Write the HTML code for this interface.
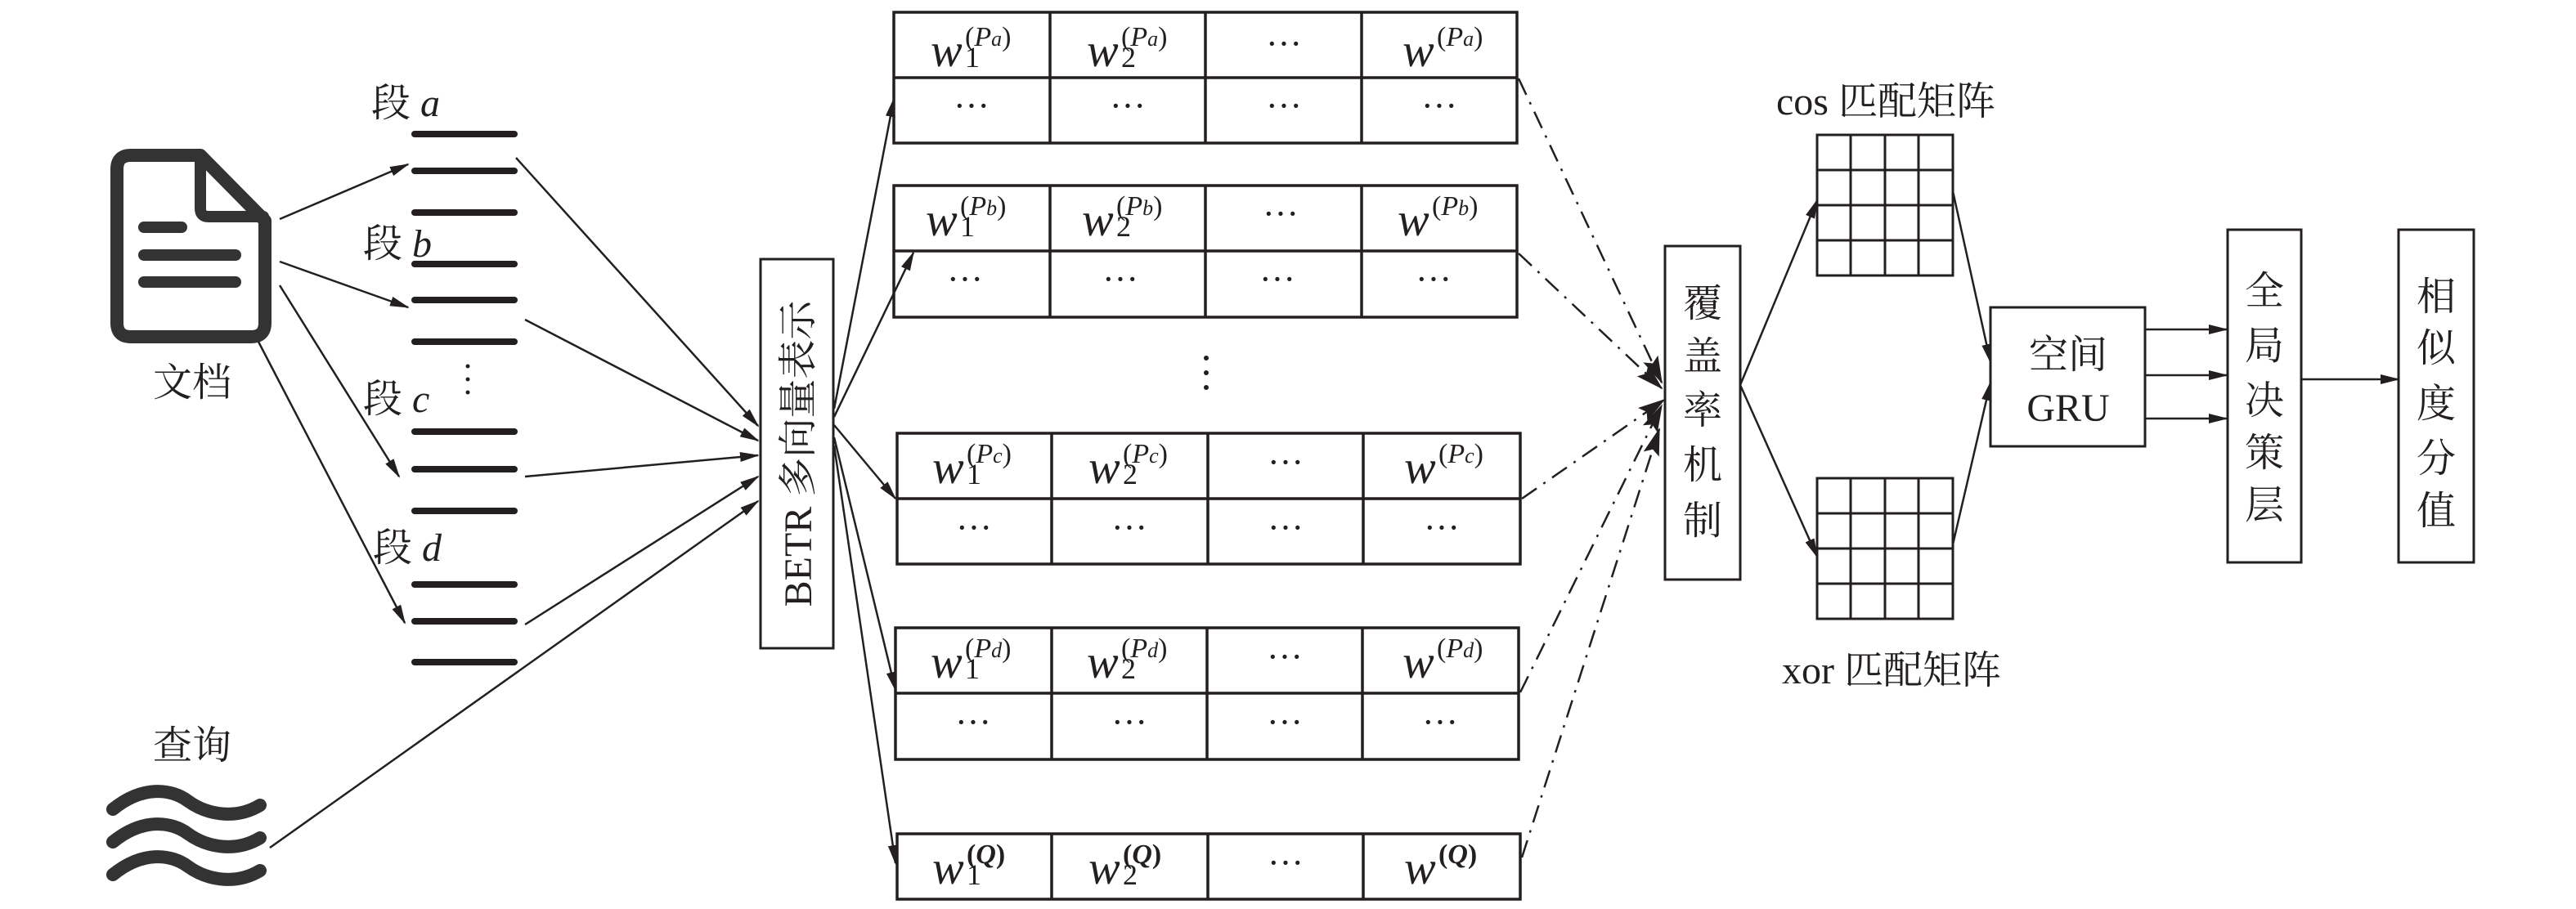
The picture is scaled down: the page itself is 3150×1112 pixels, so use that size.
<!DOCTYPE html>
<html><head><meta charset="utf-8"><style>
html,body{margin:0;padding:0;background:#fff;}
svg{display:block;}
text{font-family:"Liberation Serif","Noto Serif CJK SC","Noto Sans CJK SC",serif;fill:#231f20;}
.cj{font-family:"Liberation Serif","Noto Serif CJK SC","Noto Sans CJK SC",serif;font-size:48px;}
.w{font-style:italic;font-size:58px;}
.sb{font-size:36px;}
.sp{font-size:34px;}
.dt{font-size:44px;}
</style></head><body>
<svg width="3150" height="1112" viewBox="0 0 3150 1112" xmlns="http://www.w3.org/2000/svg">
<defs>
<marker id="ar" markerWidth="24" markerHeight="12" refX="22" refY="6" orient="auto" markerUnits="userSpaceOnUse">
<path d="M0,0 L24,6 L0,12 z" fill="#231f20"/></marker>
<marker id="ar2" markerWidth="34" markerHeight="20" refX="32" refY="10" orient="auto" markerUnits="userSpaceOnUse">
<path d="M0,0 L34,10 L0,20 L6,10 z" fill="#231f20"/></marker>
</defs>
<g stroke="#333" fill="none" stroke-linecap="round" stroke-linejoin="round">
<!-- document icon -->
<path d="M160,190 L245,190 L324,270 L324,395 Q324,412 307,412 L160,412 Q143,412 143,395 L143,207 Q143,190 160,190 Z" stroke-width="16"/>
<path d="M245,190 L245,255 Q245,265 255,265 L322,265" stroke-width="14"/>
<line x1="176" y1="278" x2="222" y2="278" stroke-width="14"/>
<line x1="176" y1="312" x2="288" y2="312" stroke-width="14"/>
<line x1="176" y1="345" x2="288" y2="345" stroke-width="14"/>
<!-- waves -->
<path d="M138,990 C175,960 210,965 230,980 C255,998 290,1002 318,985" stroke-width="16"/>
<path d="M138,1030 C175,1000 210,1005 230,1020 C255,1038 290,1042 318,1025" stroke-width="16"/>
<path d="M138,1070 C175,1040 210,1045 230,1060 C255,1078 290,1082 318,1065" stroke-width="16"/>
</g>
<g stroke="#231f20" stroke-width="8" stroke-linecap="round">
<line x1="507" y1="164" x2="629" y2="164"/><line x1="507" y1="209" x2="629" y2="209"/><line x1="507" y1="260" x2="629" y2="260"/>
<line x1="507" y1="323" x2="629" y2="323"/><line x1="507" y1="367" x2="629" y2="367"/><line x1="507" y1="418" x2="629" y2="418"/>
<line x1="507" y1="528" x2="629" y2="528"/><line x1="507" y1="574" x2="629" y2="574"/><line x1="507" y1="625" x2="629" y2="625"/>
<line x1="507" y1="715" x2="629" y2="715"/><line x1="507" y1="760" x2="629" y2="760"/><line x1="507" y1="810" x2="629" y2="810"/>
</g>
<g fill="#231f20"><circle cx="572" cy="448" r="2.5"/><circle cx="572" cy="464" r="2.5"/><circle cx="572" cy="480" r="2.5"/>
<circle cx="1475" cy="438" r="3"/><circle cx="1475" cy="456" r="3"/><circle cx="1475" cy="474" r="3"/></g>
<text class="cj" x="454" y="142">段 <tspan font-style="italic">a</tspan></text>
<text class="cj" x="444" y="314">段 <tspan font-style="italic">b</tspan></text>
<text class="cj" x="444" y="504">段 <tspan font-style="italic">c</tspan></text>
<text class="cj" x="456" y="686">段 <tspan font-style="italic">d</tspan></text>
<text class="cj" x="235" y="484" text-anchor="middle">文档</text>
<text class="cj" x="235" y="928" text-anchor="middle">查询</text>
<!-- arrows doc->segments -->
<g stroke="#231f20" stroke-width="2.5" fill="none" marker-end="url(#ar)">
<line x1="342" y1="268" x2="499" y2="201"/>
<line x1="342" y1="320" x2="499" y2="376"/>
<line x1="342" y1="349" x2="488" y2="583"/>
<line x1="316" y1="418" x2="495" y2="762"/>
<line x1="631" y1="193" x2="927" y2="521"/>
<line x1="642" y1="391" x2="927" y2="539"/>
<line x1="642" y1="583" x2="927" y2="557"/>
<line x1="642" y1="764" x2="927" y2="583"/>
<line x1="330" y1="1037" x2="927" y2="613"/>
<line x1="1020" y1="500" x2="1093" y2="121"/>
<line x1="1020" y1="510" x2="1117" y2="309"/>
<line x1="1020" y1="520" x2="1095" y2="610"/>
<line x1="1020" y1="535" x2="1095" y2="844"/>
<line x1="1020" y1="545" x2="1095" y2="1056"/>
<line x1="2128" y1="471" x2="2222" y2="245"/>
<line x1="2128" y1="471" x2="2222" y2="681"/>
<line x1="2388" y1="234" x2="2434" y2="443"/>
<line x1="2388" y1="666" x2="2434" y2="468"/>
<line x1="2623" y1="403" x2="2723" y2="403"/>
<line x1="2623" y1="459" x2="2723" y2="459"/>
<line x1="2623" y1="512" x2="2723" y2="512"/>
<line x1="2814" y1="464" x2="2933" y2="464"/>
</g>
<!-- BETR box -->
<rect x="930" y="317" width="89" height="476" fill="none" stroke="#231f20" stroke-width="3"/>
<text class="cj" transform="translate(992,555) rotate(-90)" text-anchor="middle" font-size="46">BETR 多向量表示</text>
<!-- tables -->
<g fill="none" stroke="#231f20" stroke-width="3.5">
<rect x="1093" y="15" width="762" height="160"/><line x1="1093" y1="95" x2="1855" y2="95"/>
<line x1="1284" y1="15" x2="1284" y2="175"/><line x1="1474" y1="15" x2="1474" y2="175"/><line x1="1665" y1="15" x2="1665" y2="175"/>
<rect x="1093" y="227" width="762" height="161"/><line x1="1093" y1="307" x2="1855" y2="307"/>
<line x1="1284" y1="227" x2="1284" y2="388"/><line x1="1474" y1="227" x2="1474" y2="388"/><line x1="1665" y1="227" x2="1665" y2="388"/>
<rect x="1097" y="530" width="762" height="160"/><line x1="1097" y1="610" x2="1859" y2="610"/>
<line x1="1286" y1="530" x2="1286" y2="690"/><line x1="1477" y1="530" x2="1477" y2="690"/><line x1="1667" y1="530" x2="1667" y2="690"/>
<rect x="1095" y="768" width="762" height="161"/><line x1="1095" y1="848" x2="1857" y2="848"/>
<line x1="1286" y1="768" x2="1286" y2="929"/><line x1="1476" y1="768" x2="1476" y2="929"/><line x1="1666" y1="768" x2="1666" y2="929"/>
<rect x="1097" y="1020" width="762" height="80"/>
<line x1="1286" y1="1020" x2="1286" y2="1100"/><line x1="1477" y1="1020" x2="1477" y2="1100"/><line x1="1667" y1="1020" x2="1667" y2="1100"/>
</g>
<!-- row a -->
<text x="1138" y="81" class="w">w</text><text x="1180" y="82" class="sb">1</text><text x="1180" y="56" class="sp">(<tspan font-style="italic">P</tspan><tspan font-style="italic" font-size="26">a</tspan>)</text>
<text x="1329" y="81" class="w">w</text><text x="1371" y="82" class="sb">2</text><text x="1371" y="56" class="sp">(<tspan font-style="italic">P</tspan><tspan font-style="italic" font-size="26">a</tspan>)</text>
<text x="1570" y="68" class="dt" text-anchor="middle">···</text>
<text x="1715" y="81" class="w">w</text><text x="1757" y="56" class="sp">(<tspan font-style="italic">P</tspan><tspan font-style="italic" font-size="26">a</tspan>)</text>
<text x="1188" y="144" class="dt" text-anchor="middle">···</text><text x="1379" y="144" class="dt" text-anchor="middle">···</text><text x="1570" y="144" class="dt" text-anchor="middle">···</text><text x="1760" y="144" class="dt" text-anchor="middle">···</text>
<!-- row b -->
<text x="1132" y="288" class="w">w</text><text x="1174" y="289" class="sb">1</text><text x="1174" y="263" class="sp">(<tspan font-style="italic">P</tspan><tspan font-style="italic" font-size="26">b</tspan>)</text>
<text x="1323" y="288" class="w">w</text><text x="1365" y="289" class="sb">2</text><text x="1365" y="263" class="sp">(<tspan font-style="italic">P</tspan><tspan font-style="italic" font-size="26">b</tspan>)</text>
<text x="1566" y="276" class="dt" text-anchor="middle">···</text>
<text x="1709" y="288" class="w">w</text><text x="1751" y="263" class="sp">(<tspan font-style="italic">P</tspan><tspan font-style="italic" font-size="26">b</tspan>)</text>
<text x="1180" y="356" class="dt" text-anchor="middle">···</text><text x="1370" y="356" class="dt" text-anchor="middle">···</text><text x="1562" y="356" class="dt" text-anchor="middle">···</text><text x="1753" y="356" class="dt" text-anchor="middle">···</text>
<!-- row c -->
<text x="1140" y="591" class="w">w</text><text x="1182" y="592" class="sb">1</text><text x="1182" y="566" class="sp">(<tspan font-style="italic">P</tspan><tspan font-style="italic" font-size="26">c</tspan>)</text>
<text x="1331" y="591" class="w">w</text><text x="1373" y="592" class="sb">2</text><text x="1373" y="566" class="sp">(<tspan font-style="italic">P</tspan><tspan font-style="italic" font-size="26">c</tspan>)</text>
<text x="1572" y="580" class="dt" text-anchor="middle">···</text>
<text x="1717" y="591" class="w">w</text><text x="1759" y="566" class="sp">(<tspan font-style="italic">P</tspan><tspan font-style="italic" font-size="26">c</tspan>)</text>
<text x="1191" y="660" class="dt" text-anchor="middle">···</text><text x="1381" y="660" class="dt" text-anchor="middle">···</text><text x="1572" y="660" class="dt" text-anchor="middle">···</text><text x="1763" y="660" class="dt" text-anchor="middle">···</text>
<!-- row d -->
<text x="1138" y="829" class="w">w</text><text x="1180" y="830" class="sb">1</text><text x="1180" y="804" class="sp">(<tspan font-style="italic">P</tspan><tspan font-style="italic" font-size="26">d</tspan>)</text>
<text x="1329" y="829" class="w">w</text><text x="1371" y="830" class="sb">2</text><text x="1371" y="804" class="sp">(<tspan font-style="italic">P</tspan><tspan font-style="italic" font-size="26">d</tspan>)</text>
<text x="1571" y="818" class="dt" text-anchor="middle">···</text>
<text x="1715" y="829" class="w">w</text><text x="1757" y="804" class="sp">(<tspan font-style="italic">P</tspan><tspan font-style="italic" font-size="26">d</tspan>)</text>
<text x="1190" y="898" class="dt" text-anchor="middle">···</text><text x="1381" y="898" class="dt" text-anchor="middle">···</text><text x="1571" y="898" class="dt" text-anchor="middle">···</text><text x="1761" y="898" class="dt" text-anchor="middle">···</text>
<!-- row Q -->
<text x="1140" y="1081" class="w">w</text><text x="1182" y="1082" class="sb">1</text><text x="1182" y="1056" class="sp" font-weight="bold">(<tspan font-style="italic">Q</tspan>)</text>
<text x="1331" y="1081" class="w">w</text><text x="1373" y="1082" class="sb">2</text><text x="1373" y="1056" class="sp" font-weight="bold">(<tspan font-style="italic">Q</tspan>)</text>
<text x="1572" y="1070" class="dt" text-anchor="middle">···</text>
<text x="1717" y="1081" class="w">w</text><text x="1759" y="1056" class="sp" font-weight="bold">(<tspan font-style="italic">Q</tspan>)</text>
<!-- dash-dot connectors -->
<g stroke="#231f20" stroke-width="2.5" fill="none" stroke-dasharray="22,10,3,10" marker-end="url(#ar2)">
<line x1="1857" y1="96" x2="2032" y2="468"/>
<line x1="1857" y1="310" x2="2032" y2="475"/>
<line x1="1861" y1="610" x2="2035" y2="489"/>
<line x1="1859" y1="847" x2="2032" y2="496"/>
<line x1="1861" y1="1049" x2="2029" y2="525"/>
</g>
<!-- coverage box -->
<rect x="2036" y="301" width="92" height="408" fill="none" stroke="#231f20" stroke-width="3"/>
<g class="cj" text-anchor="middle" font-size="50">
<text x="2082" y="387" class="cj" font-size="50" text-anchor="middle">覆</text>
<text x="2082" y="452" class="cj" font-size="50" text-anchor="middle">盖</text>
<text x="2082" y="518" class="cj" font-size="50" text-anchor="middle">率</text>
<text x="2082" y="585" class="cj" font-size="50" text-anchor="middle">机</text>
<text x="2082" y="653" class="cj" font-size="50" text-anchor="middle">制</text>
</g>
<text x="2306" y="140" class="cj" font-size="46" text-anchor="middle">cos 匹配矩阵</text>
<text x="2313" y="836" class="cj" font-size="46" text-anchor="middle">xor 匹配矩阵</text>
<!-- matrices -->
<g fill="none" stroke="#231f20" stroke-width="3">
<rect x="2222" y="165" width="166" height="172"/>
<line x1="2263" y1="165" x2="2263" y2="337"/><line x1="2305" y1="165" x2="2305" y2="337"/><line x1="2346" y1="165" x2="2346" y2="337"/>
<line x1="2222" y1="208" x2="2388" y2="208"/><line x1="2222" y1="251" x2="2388" y2="251"/><line x1="2222" y1="294" x2="2388" y2="294"/>
<rect x="2222" y="585" width="166" height="172"/>
<line x1="2263" y1="585" x2="2263" y2="757"/><line x1="2305" y1="585" x2="2305" y2="757"/><line x1="2346" y1="585" x2="2346" y2="757"/>
<line x1="2222" y1="628" x2="2388" y2="628"/><line x1="2222" y1="671" x2="2388" y2="671"/><line x1="2222" y1="714" x2="2388" y2="714"/>
<rect x="2434" y="376" width="189" height="170"/>
<rect x="2724" y="281" width="90" height="407"/>
<rect x="2933" y="281" width="92" height="407"/>
</g>
<text x="2529" y="450" class="cj" font-size="52" text-anchor="middle">空间</text>
<text x="2529" y="515" class="cj" font-size="52" text-anchor="middle">GRU</text>
<text x="2769" y="372" class="cj" font-size="50" text-anchor="middle">全</text>
<text x="2769" y="439" class="cj" font-size="50" text-anchor="middle">局</text>
<text x="2769" y="506" class="cj" font-size="50" text-anchor="middle">决</text>
<text x="2769" y="570" class="cj" font-size="50" text-anchor="middle">策</text>
<text x="2769" y="634" class="cj" font-size="50" text-anchor="middle">层</text>
<text x="2979" y="379" class="cj" font-size="50" text-anchor="middle">相</text>
<text x="2979" y="442" class="cj" font-size="50" text-anchor="middle">似</text>
<text x="2979" y="510" class="cj" font-size="50" text-anchor="middle">度</text>
<text x="2979" y="577" class="cj" font-size="50" text-anchor="middle">分</text>
<text x="2979" y="641" class="cj" font-size="50" text-anchor="middle">值</text>
</svg>
</body></html>
